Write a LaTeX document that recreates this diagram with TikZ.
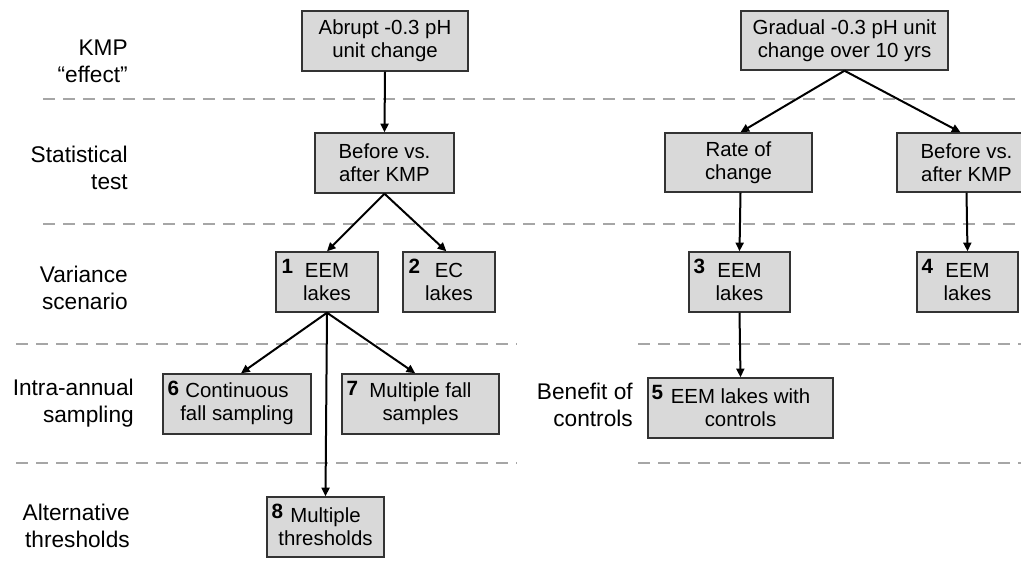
\documentclass[tikz,border=0pt]{standalone}
\usepackage{fontspec}
\setmainfont{Liberation Sans}
\usetikzlibrary{arrows.meta}
\definecolor{boxgray}{HTML}{D9D9D9}
\definecolor{dashgray}{HTML}{A6A6A6}
\definecolor{edgegray}{HTML}{333333}
\tikzset{
  box/.style={draw=edgegray, line width=1.1pt, fill=boxgray, align=center, inner sep=0pt,
    font=\fontsize{15.3}{17.5}\selectfont},
  num/.style={anchor=north west, inner sep=0pt, font=\fontsize{15.5}{17}\selectfont\bfseries},
  rowlabel/.style={anchor=east, align=right, inner sep=0pt, font=\fontsize{17}{20}\selectfont},
  sep/.style={draw=dashgray, line width=2.2pt, dash pattern=on 9pt off 6pt},
  conn/.style={draw=black, line width=1.5pt, -{Triangle[length=6.5pt,width=6pt]}},
}
\begin{document}
\begin{tikzpicture}[x=0.75pt,y=-0.75pt]
\useasboundingbox (0,0) rectangle (1021,584);
\begin{scope}
\clip (0,0) rectangle (1021,584);
% dashed separators
\coordinate (s1a) at (43,99);  \coordinate (s1b) at (1021,99);
\coordinate (s2a) at (43,224); \coordinate (s2b) at (1021,224);
\coordinate (s3a) at (16,344); \coordinate (s3b) at (517,344);
\coordinate (s4a) at (16,463); \coordinate (s4b) at (517,463);
\coordinate (s5a) at (638,344); \coordinate (s5b) at (1021,344);
\coordinate (s6a) at (638,463); \coordinate (s6b) at (1021,463);
\draw[sep] (s1a) -- (s1b);
\draw[sep] (s2a) -- (s2b);
\draw[sep] (s3a) -- (s3b);
\draw[sep] (s4a) -- (s4b);
\draw[sep] (s5a) -- (s5b);
\draw[sep] (s6a) -- (s6b);

% row labels
\node[rowlabel] (l1) at (128,61) {KMP\\“effect”};
\node[rowlabel] (l2) at (128,168) {Statistical\\test};
\node[rowlabel] (l3) at (128,288) {Variance\\scenario};
\node[rowlabel] (l4) at (134,403) {Intra-annual\\sampling};
\node[rowlabel] (l5) at (130,526) {Alternative\\thresholds};
\node[rowlabel] (l6) at (633,405) {Benefit of\\controls};

% boxes
\node[box, minimum width=166*0.75pt, minimum height=60*0.75pt] (a) at (385,41) {Abrupt -0.3 pH\\unit change};
\node[box, minimum width=139*0.75pt, minimum height=60*0.75pt] (b) at (384.5,163) {Before vs.\\after KMP};
\node[box, minimum width=102*0.75pt, minimum height=60*0.75pt] (c1) at (327,282) {EEM\\lakes};
\node[box, minimum width=92*0.75pt, minimum height=60*0.75pt] (c2) at (449,282) {EC\\lakes};
\node[box, minimum width=207*0.75pt, minimum height=59*0.75pt] (g) at (844.5,40.5) {Gradual -0.3 pH unit\\change over 10 yrs};
\node[box, minimum width=147*0.75pt, minimum height=59*0.75pt] (r) at (738.5,162.5) {Rate of\\change};
\node[box, minimum width=139*0.75pt, minimum height=59*0.75pt] (bk) at (966.5,162.5) {Before vs.\\after KMP};
\node[box, minimum width=101*0.75pt, minimum height=60*0.75pt] (c3) at (739.5,282) {EEM\\lakes};
\node[box, minimum width=101*0.75pt, minimum height=60*0.75pt] (c4) at (967.5,282) {EEM\\lakes};
\node[box, minimum width=185*0.75pt, minimum height=60*0.75pt] (c5) at (740.5,408) {EEM lakes with\\controls};
\node[box, minimum width=148*0.75pt, minimum height=60*0.75pt] (c6) at (237,404) {Continuous\\fall sampling};
\node[box, minimum width=157*0.75pt, minimum height=60*0.75pt] (c7) at (420.5,404) {Multiple fall\\samples};
\node[box, minimum width=117*0.75pt, minimum height=60*0.75pt] (c8) at (325.5,527) {Multiple\\thresholds};

% scenario numbers
\node[num] (n1) at ([shift={(6,8)}]c1.north west) {1};
\node[num] (n2) at ([shift={(6,8)}]c2.north west) {2};
\node[num] (n3) at ([shift={(5,8)}]c3.north west) {3};
\node[num] (n4) at ([shift={(5,8)}]c4.north west) {4};
\node[num] (n5) at ([shift={(4,8)}]c5.north west) {5};
\node[num] (n6) at ([shift={(5,8)}]c6.north west) {6};
\node[num] (n7) at ([shift={(5,8)}]c7.north west) {7};
\node[num] (n8) at ([shift={(5,8)}]c8.north west) {8};
\end{scope}

% connectors
\draw[conn] (a.south) -- (b.north);
\draw[conn] (b.south) -- (c1.north);
\draw[conn] (b.south) -- ([xshift=-2]c2.north);
\draw[conn] (g.south) -- ([xshift=1.5]r.north);
\draw[conn] (g.south) -- ([xshift=-4.5]bk.north);
\draw[conn] ([xshift=1.5]r.south) -- (c3.north);
\draw[conn] (bk.south) -- (c4.north);
\draw[conn] (c1.south) -- ([xshift=3]c6.north);
\draw[conn] (c1.south) -- ([xshift=-4]c7.north);
\draw[conn] (c1.south) -- (c8.north);
\draw[conn] (c3.south) -- (c5.north);
\end{tikzpicture}
\end{document}
